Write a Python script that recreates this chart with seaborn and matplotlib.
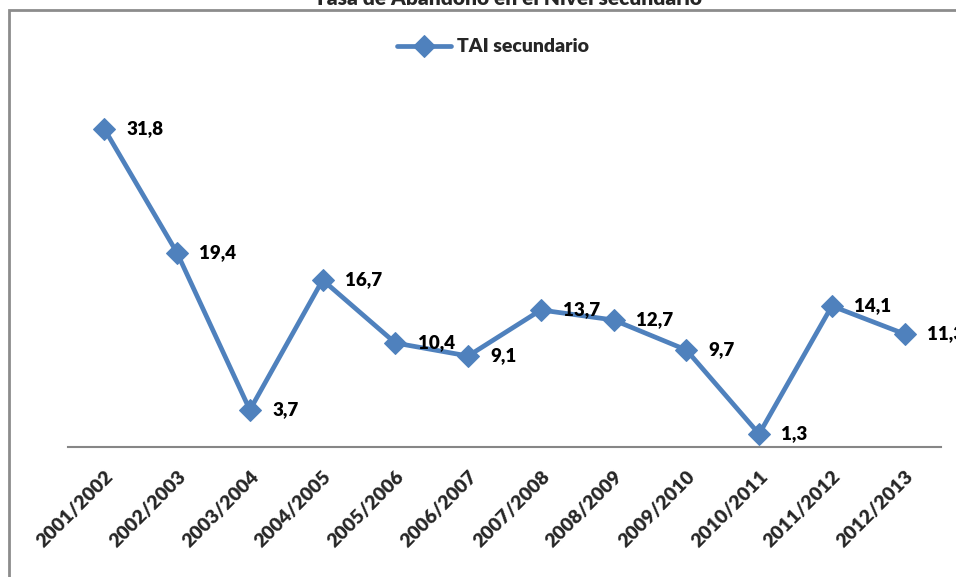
import matplotlib
matplotlib.use("Agg")
import matplotlib.pyplot as plt
import seaborn as sns
import pandas as pd
from matplotlib.patches import Rectangle

periods = ["2001/2002", "2002/2003", "2003/2004", "2004/2005", "2005/2006", "2006/2007",
           "2007/2008", "2008/2009", "2009/2010", "2010/2011", "2011/2012", "2012/2013"]
tai = [31.8, 19.4, 3.7, 16.7, 10.4, 9.1, 13.7, 12.7, 9.7, 1.3, 14.1, 11.3]

sns.set_style("white")
plt.rcParams['font.family'] = ['Lato', 'DejaVu Sans']

W, H = 956, 577
fig = plt.figure(figsize=(W / 100, H / 100), dpi=100)
ax = fig.add_axes([68 / W, 1 - 447 / H, (941 - 68) / W, (447 - 97) / H])

df = pd.DataFrame({"periodo": periods, "tai": tai})
blue = "#4F81BD"
sns.lineplot(data=df, x="periodo", y="tai", sort=False, marker="D", markersize=11,
             color=blue, linewidth=3.4, markeredgecolor=blue, label="TAI secundario", ax=ax)

for i, v in enumerate(tai):
    ax.annotate(f"{v:.1f}".replace(".", ","), (i, v), xytext=(16, 0), textcoords="offset points",
                ha="left", va="center", fontsize=13.5, fontweight="heavy", color="black",
                annotation_clip=False)

ax.set_xlim(-0.5, len(periods) - 0.5)
ax.set_ylim(0, 35)
ax.set_xlabel("")
ax.set_ylabel("")
ax.set_yticks([])
ax.set_xticks(range(len(periods)))
ax.set_xticklabels(periods, rotation=45, ha="right", rotation_mode="anchor",
                   fontsize=14, fontweight="heavy")
ax.tick_params(axis="x", length=0, pad=15)
for s in ["top", "right", "left"]:
    ax.spines[s].set_visible(False)
ax.spines["bottom"].set_color("#868686")
ax.spines["bottom"].set_linewidth(1.5)

leg = ax.legend(loc="center", bbox_to_anchor=(493 / W, 1 - 47 / H), bbox_transform=fig.transFigure,
                frameon=False, prop={"weight": "heavy", "size": 14}, handlelength=2.8, handletextpad=0.3)

# outer chart border and clipped title
fig.patches.append(Rectangle((9 / W, -0.05), 1.1, 1 - 10 / H + 0.05, transform=fig.transFigure,
                             fill=False, edgecolor="#8c8c8c", linewidth=2))
fig.text(508 / W, 1 - 5 / H, "Tasa de Abandono en el Nivel secundario", ha="center", va="baseline",
         fontsize=15, fontweight="heavy")

fig.savefig("out.png", dpi=100)
